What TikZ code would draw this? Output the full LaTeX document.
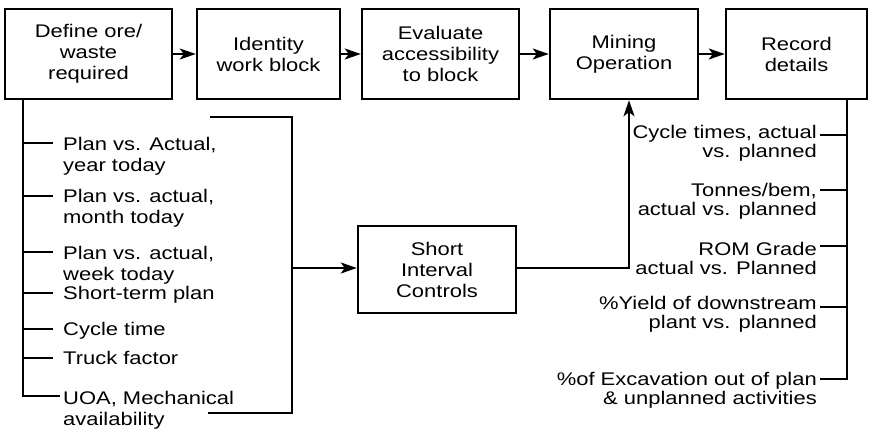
\documentclass[tikz,border=0pt]{standalone}
\usepackage{fontspec}
\setmainfont{Liberation Sans}[FakeStretch=1.2]
\usetikzlibrary{arrows.meta}
\begin{document}
\begin{tikzpicture}[x=1pt,y=-1pt,
  font=\fontsize{18.3}{21}\selectfont,
  box/.style={draw,line width=2.5pt,align=center,inner sep=0pt,minimum height=90pt},
  conn/.style={line width=1.9pt},
  arr/.style={conn,-{Stealth[length=16pt,width=11pt,inset=4pt]}},
  itl/.style={anchor=base west,align=left,inner sep=0pt,font=\fontsize{18.3}{21}\selectfont},
  itr/.style={anchor=base east,align=right,inner sep=0pt,font=\fontsize{18.3}{19.5}\selectfont}]
\useasboundingbox (0,0) rectangle (869,431);
% top row
\node[box,minimum width=167pt] (b1) at (88.5,54) {Define ore/\\waste\\required};
\node[box,minimum width=143pt] (b2) at (268.5,54) {Identity\\work block};
\node[box,minimum width=157pt] (b3) at (440.5,54) {Evaluate\\accessibility\\to block};
\node[box,minimum width=148pt] (b4) at (624,54) {Mining\\Operation};
\node[box,minimum width=141pt] (b5) at (796.5,54) {Record\\details};
\draw[arr] (b1) -- (b2);
\draw[arr] (b2) -- (b3);
\draw[arr] (b3) -- (b4);
\draw[arr] (b4) -- (b5);
% short interval controls
\node[box,minimum width=158pt,minimum height=87pt] (sic) at (437,269.5) {Short\\Interval\\Controls};
% left list (base = last line)
\node[itl] (L1) at (63,171) {Plan vs. Actual,\\year today};
\node[itl] (L2) at (63,223) {Plan vs. actual,\\month today};
\node[itl] (L3) at (63,280) {Plan vs. actual,\\week today};
\node[itl] (L4) at (63,299) {Short-term plan};
\node[itl] (L5) at (63,335) {Cycle time};
\node[itl] (L6) at (63,364) {Truck factor};
\node[itl] (L7) at (63,425) {UOA, Mechanical\\availability};
\coordinate (sL) at (23,396);
\draw[conn] (b1.south -| sL) -- (sL) -- ([shift={(-3pt,29pt)}]L7.base west);
\foreach \n/\o in {L1/28,L2/27,L3/28,L4/6,L5/6,L6/6}
  \draw[conn] ([shift={(-10pt,\o pt)}]\n.base west) -- ++(-30pt,0);
% bracket
\coordinate (brT) at (292,117);
\coordinate (brB) at (292,413);
\coordinate (brM) at (292,268);
\draw[conn] (210,117) -- (brT) -- (brB) -- (208,413);
\draw[arr] (brM) -- (sic.west |- brM);
\draw[arr] (sic.east |- brM) -| ([xshift=5pt]b4.south);
% right list (base = last line)
\node[itr] (R1) at (817,157.5) {Cycle times, actual\\vs. planned};
\node[itr] (R2) at (817,215.5) {Tonnes/bem,\\actual vs. planned};
\node[itr] (R3) at (817,274.5) {ROM Grade\\actual vs. Planned};
\node[itr] (R4) at (817,328.5) {\%Yield of downstream\\plant vs. planned};
\node[itr] (R5) at (817,404.5) {\%of Excavation out of plan\\\& unplanned activities};
\coordinate (sR) at (847,379);
\draw[conn] (b5.south -| sR) -- (sR) -- ([shift={(3pt,25.5pt)}]R5.base east);
\foreach \n/\o in {R1/22.5,R2/25.5,R3/28.5,R4/21.5}
  \draw[conn] ([shift={(3pt,\o pt)}]\n.base east) coordinate (t) -- (t -| sR);
\end{tikzpicture}
\end{document}
